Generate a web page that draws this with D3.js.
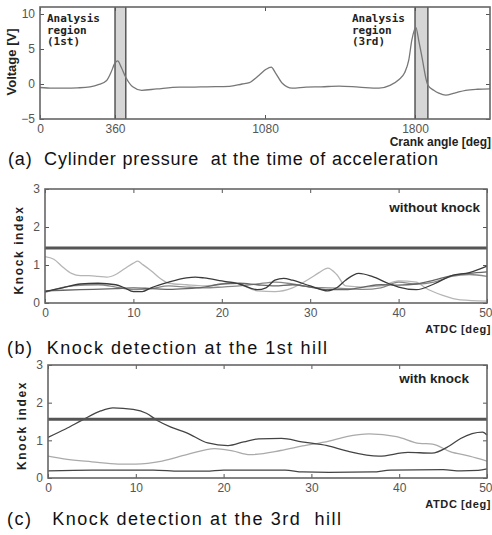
<!DOCTYPE html>
<html>
<head>
<meta charset="utf-8">
<script src="https://cdn.jsdelivr.net/npm/d3@7"></script>
<style>
  body { margin: 0; background: #fff; }
  svg { display: block; font-family: 'Liberation Sans', Arial, sans-serif; }
  .tick text { fill: #555; font-size: 12px; }
  .lbl { font-weight: bold; fill: #222; }
  .caption { font-size: 18px; fill: #111; }
</style>
</head>
<body>
<div id="chart"></div>
<script>
// (a) cylinder pressure signal
const crankAngle = [0, 60, 120, 180, 240, 280, 320, 340, 360, 373, 390, 411, 445, 488, 560, 670, 720, 800, 909, 970, 1005, 1053, 1085, 1110, 1130, 1163, 1210, 1277, 1350, 1435, 1530, 1627, 1680, 1722, 1750, 1770, 1785, 1804, 1818, 1833, 1861, 1890, 1914, 1947, 1990, 2043, 2100, 2160]
const voltage = [-0.5, -0.6, -0.6, -0.55, -0.4, -0.1, 0.5, 1.6, 3.0, 3.3, 2.4, 1.0, -0.4, -0.9, -0.7, -0.45, -0.45, -0.4, -0.35, 0.0, 0.2, 1.3, 2.1, 2.4, 1.6, 0.1, -0.6, -0.45, -0.4, -0.3, -0.45, -0.6, -0.2, 0.6, 1.6, 3.4, 6.3, 8.1, 6.2, 3.9, -0.1, -0.9, -1.3, -1.6, -1.3, -0.9, -0.75, -0.7]
const analysisRegions = [[360, 412], [1800, 1862]]
const regionLabels = [['Analysis', 'region', '(1st)'], ['Analysis', 'region', '(3rd)']]
const crankTicks = [0, 360, 1080, 1800]
const voltageTicks = [-5, 0, 5, 10]

// (b) knock index, 1st hill (without knock)
const knockB = [
  [[0, 1.22], [1, 1.15], [2, 0.95], [3, 0.78], [4, 0.72], [5, 0.72], [6, 0.7], [7, 0.68], [8, 0.75], [9, 0.9], [10, 1.05], [10.5, 1.1], [11, 1.02], [12, 0.85], [13, 0.65], [14, 0.52], [16, 0.48], [18, 0.45], [20, 0.5], [21, 0.55], [22, 0.5], [24, 0.32], [26, 0.3], [28, 0.4], [30, 0.65], [31, 0.8], [32, 0.92], [33, 0.75], [34, 0.45], [36, 0.42], [38, 0.45], [40, 0.58], [42, 0.55], [43, 0.4], [45, 0.2], [47, 0.08], [50, 0.05]],
  [[0, 0.28], [3, 0.45], [6, 0.48], [8, 0.42], [10, 0.35], [12, 0.38], [14, 0.45], [16, 0.42], [18, 0.4], [20, 0.42], [22, 0.45], [24, 0.5], [26, 0.55], [28, 0.5], [30, 0.42], [32, 0.4], [34, 0.38], [36, 0.36], [38, 0.4], [40, 0.55], [42, 0.5], [44, 0.55], [46, 0.7], [48, 0.75], [50, 0.7]],
  [[0, 0.32], [4, 0.35], [8, 0.38], [10, 0.4], [12, 0.38], [14, 0.36], [16, 0.38], [18, 0.42], [20, 0.5], [22, 0.52], [24, 0.48], [26, 0.45], [28, 0.48], [30, 0.42], [32, 0.35], [34, 0.35], [36, 0.42], [38, 0.48], [40, 0.47], [42, 0.5], [44, 0.6], [46, 0.72], [48, 0.78], [50, 0.82]],
  [[0, 0.3], [2, 0.4], [4, 0.5], [6, 0.52], [8, 0.48], [9, 0.4], [10, 0.3], [11, 0.3], [12, 0.4], [14, 0.55], [16, 0.66], [17, 0.68], [18, 0.66], [20, 0.58], [22, 0.5], [24, 0.35], [25, 0.4], [26, 0.6], [27, 0.65], [28, 0.6], [30, 0.45], [32, 0.32], [33, 0.4], [34, 0.6], [35.5, 0.78], [37, 0.7], [39, 0.5], [40, 0.42], [42, 0.35], [44, 0.5], [46, 0.72], [48, 0.8], [50, 0.97]]
]
const thresholdB = 1.45

// (c) knock index, 3rd hill (with knock)
const knockC = [
  [[0, 0.58], [2, 0.5], [5, 0.43], [8, 0.37], [10, 0.37], [13, 0.45], [15.8, 0.62], [19, 0.78], [21, 0.72], [23, 0.62], [26.5, 0.73], [29, 0.85], [32, 0.98], [34, 1.1], [36.6, 1.17], [39.7, 1.1], [42.3, 0.92], [43.8, 0.9], [45.8, 0.7], [48, 0.58], [50, 0.45]],
  [[0, 0.19], [5, 0.21], [12, 0.21], [15, 0.18], [18, 0.18], [20, 0.21], [27, 0.21], [29, 0.16], [32, 0.15], [37, 0.16], [39, 0.21], [45, 0.22], [47, 0.19], [49, 0.2], [50, 0.24]],
  [[0, 1.08], [2, 1.3], [4, 1.55], [6, 1.78], [7.4, 1.86], [9.7, 1.82], [11.2, 1.72], [12.5, 1.52], [14, 1.35], [15.8, 1.2], [18.2, 0.93], [20.5, 0.86], [22.3, 0.96], [24, 1.04], [26.6, 1.05], [28.9, 0.96], [31.8, 0.86], [34, 0.72], [37.7, 0.58], [41, 0.68], [43.7, 0.66], [45.7, 0.85], [47, 1.05], [48.3, 1.18], [49.5, 1.22], [50, 1.14]]
]
const thresholdC = 1.56
const atdcTicks = [0, 10, 20, 30, 40, 50]
const knockTicks = [0, 1, 2, 3]

const W = 492, H = 535
const svg = d3.select('#chart').append('svg').attr('width', W).attr('height', H)

// Draws the framed plot area with inward ticks on all sides
function frame (g, x, y, xTicks, yTicks) {
  const [x0, x1] = x.range()
  const [y0, y1] = y.range()
  const xAx = g.append('g').attr('transform', `translate(0,${y0})`)
    .call(d3.axisBottom(x).tickValues(xTicks).tickSize(-4).tickPadding(5).tickFormat(d3.format('d')))
  // last label sits on the right edge, as in the original
  xAx.selectAll('.tick:last-of-type text').attr('text-anchor', 'end').attr('dx', 5)
  g.append('g').attr('transform', `translate(${x0},0)`)
    .call(d3.axisLeft(y).tickValues(yTicks).tickSize(-4).tickPadding(5).tickFormat(d3.format('d')))
  g.append('g').attr('transform', `translate(${x1},0)`)
    .call(d3.axisRight(y).tickValues(yTicks).tickSize(-4).tickFormat(''))
  g.append('g').attr('transform', `translate(0,${y1})`)
    .call(d3.axisTop(x).tickValues(xTicks).tickSize(-4).tickFormat(''))
  g.selectAll('.domain').remove()
  g.selectAll('.tick line').attr('stroke', '#555')
  g.append('rect')
    .attr('x', x0).attr('y', y1).attr('width', x1 - x0).attr('height', y0 - y1)
    .attr('fill', 'none').attr('stroke', '#666').attr('stroke-width', 1.6)
  return xAx
}

// ---- Panel (a)
{
  const g = svg.append('g')
  const x = d3.scaleLinear().domain([0, 2160]).range([40, 490])
  const y = d3.scaleLinear().domain([-5, 11]).range([119, 7])
  analysisRegions.forEach(r => {
    g.append('rect').attr('x', x(r[0])).attr('y', y(11))
      .attr('width', x(r[1]) - x(r[0])).attr('height', y(-5) - y(11))
      .attr('fill', '#d6d6d6').attr('stroke', 'none')
    r.forEach(v => {
      g.append('line').attr('x1', x(v)).attr('x2', x(v)).attr('y1', y(11)).attr('y2', y(-5))
        .attr('stroke', '#333').attr('stroke-width', 1.2)
    })
  })
  const pts = crankAngle.map((c, i) => [c, voltage[i]])
  g.append('path').datum(pts)
    .attr('d', d3.line().x(d => x(d[0])).y(d => y(d[1])).curve(d3.curveMonotoneX))
    .attr('fill', 'none').attr('stroke', '#777').attr('stroke-width', 1.3)
  const xAx = frame(g, x, y, crankTicks, voltageTicks)
  xAx.selectAll('.tick text').attr('text-anchor', 'middle').attr('dx', 0)
  const lx = [47, 352]
  regionLabels.forEach((lines, k) => {
    lines.forEach((t, j) => {
      g.append('text').attr('class', 'lbl').attr('x', lx[k]).attr('y', 22 + j * 11.5)
        .attr('font-family', 'DejaVu Sans Mono, monospace').attr('font-size', 11).text(t)
    })
  })
  g.append('text').attr('class', 'lbl').attr('transform', 'translate(16,62) rotate(-90)')
    .attr('text-anchor', 'middle').attr('font-size', 13).text('Voltage [V]')
  g.append('text').attr('class', 'lbl').attr('x', 491).attr('y', 146)
    .attr('text-anchor', 'end').attr('font-size', 12).text('Crank angle [deg]')
  svg.append('text').attr('class', 'caption').attr('x', 8).attr('y', 165)
    .attr('xml:space', 'preserve').attr('textLength', 430).attr('lengthAdjust', 'spacing')
    .text('(a)  Cylinder pressure  at the time of acceleration')
}

// Knock index panels
const knockColors = ['#b5b5b5', '#888', '#666', '#3a3a3a']
function knockPanel (series, colors, threshold, top, bottom, left, note, noteX, noteDy, captionY, caption, capLen) {
  const g = svg.append('g')
  const x = d3.scaleLinear().domain([0, 50]).range([left, 487])
  const y = d3.scaleLinear().domain([0, 3]).range([bottom, top])
  const line = d3.line().x(d => x(d[0])).y(d => y(d[1])).curve(d3.curveMonotoneX)
  series.forEach((s, i) => {
    g.append('path').datum(s).attr('d', line)
      .attr('fill', 'none').attr('stroke', colors[i]).attr('stroke-width', 1.3)
  })
  g.append('line').attr('x1', x(0)).attr('x2', x(50)).attr('y1', y(threshold)).attr('y2', y(threshold))
    .attr('stroke', '#555').attr('stroke-width', 3)
  frame(g, x, y, atdcTicks, knockTicks)
  g.append('text').attr('class', 'lbl').attr('x', noteX).attr('y', top + noteDy)
    .attr('text-anchor', 'end').attr('font-size', 13.5).text(note)
  g.append('text').attr('class', 'lbl').attr('x', 491).attr('y', bottom + 30)
    .attr('text-anchor', 'end').attr('font-size', 11).attr('letter-spacing', 0.6).text('ATDC [deg]')
  g.append('text').attr('class', 'lbl')
    .attr('transform', `translate(${left - 22},${(top + bottom) / 2 + 4}) rotate(-90)`)
    .attr('text-anchor', 'middle').attr('font-size', 12).attr('letter-spacing', 1.6).text('Knock  index')
  svg.append('text').attr('class', 'caption').attr('x', 7).attr('y', captionY)
    .attr('xml:space', 'preserve').attr('textLength', capLen).attr('lengthAdjust', 'spacing')
    .text(caption)
}

knockPanel(knockB, knockColors, thresholdB, 189, 303, 45, 'without knock', 480, 23, 354,
  '(b)  Knock detection at the 1st hill', 320)
knockPanel(knockC, ['#aaa', '#444', '#444'], thresholdC, 365, 478, 48, 'with knock', 469, 18, 525,
  '(c)   Knock detection at the 3rd  hill', 334)
</script>
</body>
</html>
